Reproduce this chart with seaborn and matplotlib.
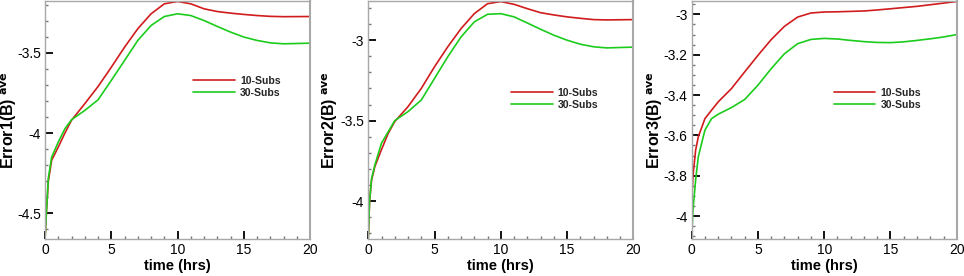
import matplotlib
matplotlib.use("Agg")
import matplotlib.pyplot as plt
from matplotlib.ticker import MultipleLocator, FuncFormatter
import numpy as np
import pandas as pd
import seaborn as sns

sns.set_style("ticks")
plt.rcParams.update({
    "font.family": ["Liberation Sans", "DejaVu Sans"],
    "axes.unicode_minus": False,
})

# ---- data ----
t12 = [0, 0.1, 0.25, 0.5, 1, 1.5, 2, 3, 4, 5, 6, 7, 8, 9, 10, 11, 12, 13, 14, 15, 16, 17, 18, 20]
red1 = [-4.66, -4.5, -4.3, -4.17, -4.087, -4.0, -3.92, -3.817, -3.71, -3.59, -3.465, -3.35, -3.257,
        -3.195, -3.18, -3.195, -3.226, -3.243, -3.253, -3.261, -3.268, -3.273, -3.275, -3.274]
green1 = [-4.66, -4.5, -4.28, -4.15, -4.056, -3.973, -3.917, -3.859, -3.793, -3.672, -3.548, -3.423, -3.33,
          -3.274, -3.257, -3.268, -3.299, -3.336, -3.371, -3.402, -3.423, -3.438, -3.444, -3.44]
red2 = [-4.236, -4.0, -3.87, -3.785, -3.68, -3.58, -3.506, -3.413, -3.30, -3.165, -3.041, -2.928, -2.835,
        -2.773, -2.76, -2.777, -2.804, -2.829, -2.843, -2.855, -2.864, -2.872, -2.874, -2.872]
green2 = [-4.236, -4.0, -3.86, -3.775, -3.64, -3.57, -3.5, -3.444, -3.372, -3.238, -3.103, -2.98, -2.886,
          -2.839, -2.835, -2.855, -2.893, -2.932, -2.969, -3.0, -3.025, -3.041, -3.048, -3.043]
t3 = [0, 0.1, 0.3, 0.5, 1, 1.5, 2, 3, 4, 5, 6, 7, 8, 9, 10, 11, 12, 13, 14, 15, 16, 17, 18, 19, 20]
red3 = [-3.929, -3.80, -3.673, -3.607, -3.517, -3.475, -3.434, -3.368, -3.285, -3.203, -3.125, -3.059, -3.013,
        -2.993, -2.988, -2.987, -2.985, -2.983, -2.978, -2.972, -2.966, -2.96, -2.952, -2.944, -2.936]
green3 = [-4.10, -3.97, -3.82, -3.706, -3.574, -3.517, -3.495, -3.462, -3.422, -3.351, -3.269, -3.195, -3.145,
          -3.124, -3.119, -3.122, -3.129, -3.135, -3.139, -3.14, -3.136, -3.129, -3.121, -3.112, -3.10]

series_names = ["10-Subs", "30-Subs"]
ylabels = ["Error1(B)", "Error2(B)", "Error3(B)"]
palette = {"10-Subs": "#d01c1c", "30-Subs": "#1ccc1c"}

panels = [
    (t12, red1, green1, (-4.66, -3.178), 0.5, 0.1, (0.56, 0.685)),
    (t12, red2, green2, (-4.236, -2.757), 0.5, 0.1, (0.54, 0.635)),
    (t3, red3, green3, (-4.114, -2.934), 0.2, 0.05, (0.538, 0.635)),
]
lefts = [0.0467, 0.382, 0.7175]
label_x = [-0.10, -0.107, -0.101]

fig = plt.figure(figsize=(9.64, 2.76), dpi=100)
fmt = FuncFormatter(lambda v, p: "%g" % round(v, 3))

for i, (t, r, g, ylim, major, minor, legpos) in enumerate(panels):
    ax = fig.add_axes([lefts[i], 0.134, 0.275, 0.862])
    df = pd.DataFrame({
        "t": list(t) + list(t),
        "val": list(r) + list(g),
        "series": [series_names[0]] * len(t) + [series_names[1]] * len(t),
    })
    sns.lineplot(data=df, x="t", y="val", hue="series", palette=palette,
                 linewidth=1.2, ax=ax, legend=True)
    ax.set_xlim(0, 20)
    ax.set_ylim(*ylim)
    ax.xaxis.set_major_locator(MultipleLocator(5))
    ax.xaxis.set_minor_locator(MultipleLocator(1))
    ax.yaxis.set_major_locator(MultipleLocator(major))
    ax.yaxis.set_minor_locator(MultipleLocator(minor))
    ax.yaxis.set_major_formatter(fmt)
    ax.tick_params(which="major", direction="in", length=5.5, width=1.3, color="black",
                   labelsize=10, labelcolor="black", pad=3,
                   bottom=True, left=True, top=False, right=False)
    ax.tick_params(which="minor", direction="in", length=2.5, width=1.0, color="#777777",
                   bottom=True, left=True, top=False, right=False)
    for side, sp in ax.spines.items():
        sp.set_visible(True)
        sp.set_color("#a8a8a8")
        sp.set_linewidth(1.5 if side == "right" else 1.0)
    ax.set_xlabel("time (hrs)", fontsize=10.5, fontweight="bold", labelpad=1, color="black")
    ax.set_ylabel(ylabels[i] + r"$^{\mathbf{\ ave}}$", fontsize=11.5, fontweight="bold", color="black")
    ax.yaxis.set_label_coords(label_x[i], 0.5)
    h, l = ax.get_legend_handles_labels()
    ax.legend(h, l, loc="upper left", bbox_to_anchor=legpos, frameon=False,
              prop={"size": 7.6, "weight": "bold"}, handlelength=3.9, handletextpad=0.5,
              labelspacing=0.15, borderpad=0, borderaxespad=0)

fig.savefig("out.png", dpi=100)
